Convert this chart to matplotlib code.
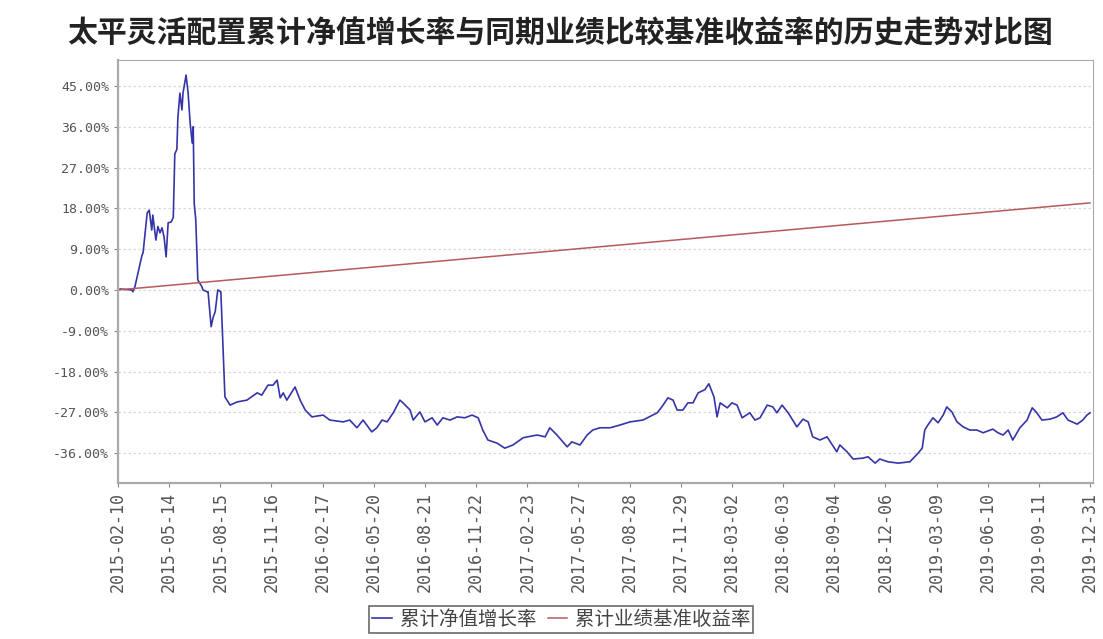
import matplotlib
matplotlib.use("Agg")
from matplotlib import pyplot as plt

plt.rcParams['font.family'] = ['Noto Sans CJK SC', 'DejaVu Sans']

# tick labels along the x axis (evenly spaced categories)
dates = ["2015-02-10", "2015-05-14", "2015-08-15", "2015-11-16", "2016-02-17",
         "2016-05-20", "2016-08-21", "2016-11-22", "2017-02-23", "2017-05-27",
         "2017-08-28", "2017-11-29", "2018-03-02", "2018-06-03", "2018-09-04",
         "2018-12-06", "2019-03-09", "2019-06-10", "2019-09-11", "2019-12-31"]

# fund cumulative NAV growth (%), position measured in tick steps
nav_pos = [0.00, 0.04, 0.27, 0.29, 0.33, 0.47, 0.49, 0.57, 0.61, 0.66, 0.68, 0.74, 0.78,
           0.82, 0.86, 0.90, 0.94, 0.98, 1.04, 1.08, 1.11, 1.15, 1.17, 1.21, 1.25, 1.27,
           1.33, 1.37, 1.41, 1.45, 1.47, 1.49, 1.52, 1.56, 1.64, 1.66, 1.74, 1.76, 1.82,
           1.86, 1.90, 1.95, 2.01, 2.09, 2.19, 2.33, 2.52, 2.72, 2.81, 2.93, 3.03, 3.11,
           3.17, 3.23, 3.30, 3.46, 3.56, 3.66, 3.79, 4.01, 4.14, 4.40, 4.53, 4.67, 4.79,
           4.96, 5.06, 5.16, 5.26, 5.38, 5.51, 5.57, 5.71, 5.77, 5.90, 6.00, 6.14, 6.24,
           6.35, 6.49, 6.63, 6.78, 6.92, 7.04, 7.13, 7.23, 7.41, 7.56, 7.72, 7.92, 8.19,
           8.35, 8.44, 8.58, 8.78, 8.87, 9.03, 9.17, 9.28, 9.42, 9.62, 9.81, 10.01, 10.26,
           10.54, 10.63, 10.75, 10.85, 10.93, 11.04, 11.14, 11.24, 11.34, 11.47, 11.55,
           11.65, 11.71, 11.77, 11.91, 12.00, 12.10, 12.20, 12.35, 12.45, 12.55, 12.69,
           12.80, 12.88, 12.98, 13.10, 13.27, 13.39, 13.49, 13.58, 13.72, 13.86, 14.05,
           14.11, 14.25, 14.37, 14.56, 14.66, 14.80, 14.89, 15.05, 15.25, 15.48, 15.64,
           15.72, 15.77, 15.83, 15.93, 16.03, 16.13, 16.20, 16.30, 16.40, 16.52, 16.65,
           16.79, 16.91, 17.10, 17.20, 17.30, 17.40, 17.49, 17.63, 17.77, 17.87, 17.96,
           18.06, 18.22, 18.35, 18.47, 18.57, 18.75, 18.86, 18.94, 19.00]
nav_val = [0.0, 0.2, 0.0, -0.4, 0.7, 7.7, 8.2, 17.0, 17.6, 13.2, 16.5, 11.0, 14.0,
           12.6, 13.7, 11.7, 7.3, 14.8, 15.0, 16.0, 30.0, 31.0, 38.0, 43.4, 39.7, 43.4,
           47.4, 43.5, 36.8, 32.4, 36.0, 19.0, 15.4, 2.2, 0.7, 0.0, -0.4, -0.4, -8.1,
           -6.0, -4.8, 0.0, -0.4, -23.6, -25.4, -24.7, -24.3, -22.7, -23.2, -21.0, -21.0, -19.9,
           -23.8, -22.7, -24.3, -21.4, -24.3, -26.5, -28.0, -27.6, -28.7, -29.1, -28.7, -30.4, -28.7,
           -31.3, -30.4, -28.7, -29.1, -27.1, -24.3, -24.9, -26.5, -28.7, -26.9, -29.1, -28.2, -29.8,
           -28.2, -28.7, -28.0, -28.2, -27.6, -28.2, -30.9, -33.1, -33.8, -34.9, -34.2, -32.6, -32.0,
           -32.4, -30.4, -32.0, -34.6, -33.5, -34.2, -32.0, -30.9, -30.4, -30.4, -29.8, -29.1, -28.7,
           -27.1, -25.8, -23.8, -24.3, -26.5, -26.5, -24.9, -24.9, -22.7, -22.0, -20.7,
           -23.6, -28.0, -24.9, -26.0, -24.9, -25.4, -28.2, -27.1, -28.7, -28.2, -25.4,
           -25.8, -27.1, -25.4, -27.1, -30.2, -28.5, -29.1, -32.4, -33.1, -32.4, -35.7,
           -34.2, -35.7, -37.3, -37.1, -36.8, -38.2, -37.3, -37.9, -38.2, -37.9, -36.0,
           -34.9, -30.9, -29.8, -28.2, -29.3, -27.6, -25.8, -26.9, -29.1, -30.2, -30.9,
           -30.9, -31.5, -30.7, -31.5, -32.0, -30.9, -33.1, -30.4, -28.7, -26.0, -27.1,
           -28.7, -28.5, -28.0, -27.1, -28.7, -29.6, -28.7, -27.6, -27.1]

# benchmark cumulative return (%)
bench_pos = [0, 19]
bench_val = [0.0, 19.2]

yticks = [-36, -27, -18, -9, 0, 9, 18, 27, 36, 45]

fig = plt.figure(figsize=(11.03, 6.39), dpi=100)
ax = fig.add_axes([0.107, 0.244, 0.884, 0.662])

ax.plot(nav_pos, nav_val, color='#3535a8', linewidth=1.2, label='累计净值增长率')
ax.plot(bench_pos, bench_val, color='#b85a5a', linewidth=1.1, label='累计业绩基准收益率')

ax.set_xlim(0, 19.06)
ax.set_ylim(-42.6, 50.7)
ax.set_yticks(yticks)
ax.set_yticklabels(["%.2f%%" % v for v in yticks], family='DejaVu Sans Mono',
                   fontsize=9.5, color='#555555')
ax.set_xticks(range(len(dates)))
ax.set_xticklabels(dates, rotation=90, family='DejaVu Sans Mono', fontsize=12,
                   color='#555555')
ax.tick_params(axis='both', direction='out', length=3, color='#888888')
ax.grid(axis='y', linestyle=(0, (2, 2)), color='#d8d8d8', linewidth=0.9)
for s in ax.spines.values():
    s.set_color('#aaaaaa')
ax.spines['left'].set_linewidth(1.6)
ax.spines['bottom'].set_linewidth(1.6)

fig.text(0.508, 0.948, '太平灵活配置累计净值增长率与同期业绩比较基准收益率的历史走势对比图',
         ha='center', va='center', fontsize=21.5, fontweight='bold', color='#222222')

leg = fig.legend(loc='upper center', bbox_to_anchor=(0.509, 0.052), ncol=2,
                 fontsize=14, frameon=True, fancybox=False, handlelength=1.0,
                 handletextpad=0.4, columnspacing=0.6, borderpad=0.15, borderaxespad=0.0)
leg.get_frame().set_edgecolor('#444444')
leg.get_frame().set_linewidth(1.2)
for t in leg.get_texts():
    t.set_color('#444444')

fig.savefig('out.png', dpi=100)
